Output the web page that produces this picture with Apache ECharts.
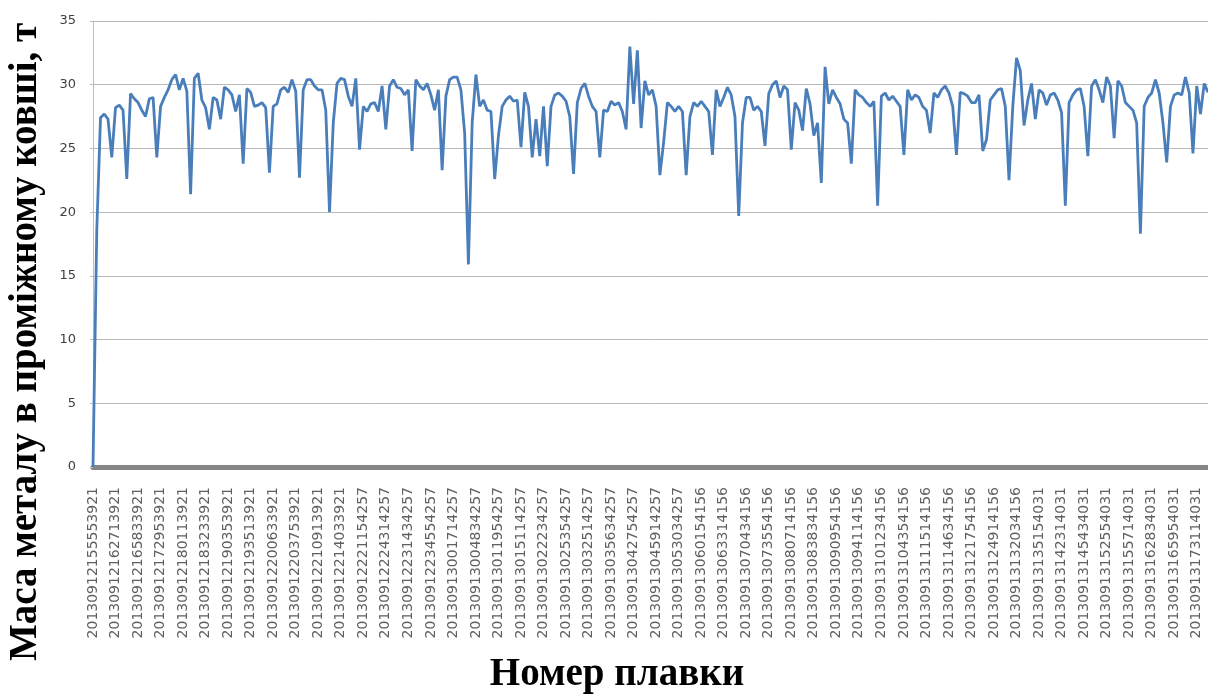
<!DOCTYPE html>
<html>
<head>
<meta charset="utf-8">
<script src="https://cdn.jsdelivr.net/npm/echarts@6/dist/echarts.min.js"></script>
<style>
html,body{margin:0;padding:0;background:#fff;}
#chart{width:1208px;height:695px;}
</style>
</head>
<body>
<div id="chart"></div>
<script>
const tickLabels = [
"20130912155553921","20130912162713921","20130912165833921","20130912172953921","20130912180113921",
"20130912183233921","20130912190353921","20130912193513921","20130912200633921","20130912203753921",
"20130912210913921","20130912214033921","20130912221154257","20130912224314257","20130912231434257",
"20130912234554257","20130913001714257","20130913004834257","20130913011954257","20130913015114257",
"20130913022234257","20130913025354257","20130913032514257","20130913035634257","20130913042754257",
"20130913045914257","20130913053034257","20130913060154156","20130913063314156","20130913070434156",
"20130913073554156","20130913080714156","20130913083834156","20130913090954156","20130913094114156",
"20130913101234156","20130913104354156","20130913111514156","20130913114634156","20130913121754156",
"20130913124914156","20130913132034156","20130913135154031","20130913142314031","20130913145434031",
"20130913152554031","20130913155714031","20130913162834031","20130913165954031","20130913173114031"
];
// points drawn between two consecutive labelled heats
const STEP = 6;
const massValues = [
0,18.5,27.4,27.7,27.3,24.3,28.2,28.4,28.0,22.6,
29.3,28.9,28.6,28.0,27.5,28.9,29.0,24.3,28.3,29.0,
29.6,30.4,30.8,29.6,30.5,29.5,21.4,30.5,30.9,28.8,
28.2,26.5,29.0,28.8,27.3,29.8,29.6,29.2,27.9,29.2,
23.8,29.7,29.4,28.3,28.4,28.6,28.2,23.1,28.3,28.5,
29.6,29.8,29.4,30.4,29.5,22.7,29.6,30.4,30.4,29.9,
29.6,29.6,28.0,20.0,27.0,30.1,30.5,30.4,29.1,28.3,
30.5,24.9,28.3,27.9,28.5,28.6,27.9,29.9,26.5,29.9,
30.4,29.8,29.7,29.2,29.6,24.8,30.4,29.9,29.6,30.1,
29.2,28.0,29.6,23.3,29.1,30.4,30.6,30.6,29.6,26.2,
15.9,27.0,30.8,28.3,28.8,28.0,27.9,22.6,26.0,28.3,
28.8,29.1,28.7,28.8,25.1,29.4,28.3,24.3,27.3,24.4,
28.3,23.6,28.3,29.2,29.35,29.1,28.7,27.5,23.0,28.6,
29.7,30.1,29.1,28.3,27.9,24.3,28.0,27.9,28.7,28.4,
28.6,27.9,26.5,33.0,28.5,32.7,26.6,30.3,29.2,29.6,
28.3,22.9,25.5,28.6,28.3,27.9,28.3,27.9,22.9,27.5,
28.6,28.3,28.7,28.3,27.9,24.5,29.6,28.3,29.0,29.8,
29.2,27.5,19.7,27.0,29.0,29.0,28.0,28.3,27.9,25.2,
29.3,30.0,30.3,29.0,29.9,29.6,24.9,28.6,28.0,26.4,
29.7,28.5,26.0,27.0,22.3,31.4,28.5,29.6,29.0,28.5,
27.3,27.0,23.8,29.6,29.2,29.0,28.6,28.3,28.7,20.5,
29.1,29.35,28.8,29.1,28.7,28.3,24.5,29.6,28.8,29.2,
29.0,28.3,28.0,26.2,29.35,29.0,29.6,29.9,29.35,28.3,
24.5,29.4,29.3,29.1,28.6,28.6,29.2,24.8,25.7,28.8,
29.2,29.6,29.7,28.3,22.5,28.3,32.1,31.1,26.8,28.8,
30.1,27.3,29.6,29.35,28.4,29.2,29.35,28.8,27.8,20.5,
28.6,29.2,29.6,29.7,28.3,24.4,29.9,30.4,29.6,28.6,
30.6,29.9,25.8,30.3,29.9,28.6,28.3,28.0,27.0,18.3,
28.3,29.0,29.35,30.4,29.35,27.0,23.9,28.3,29.2,29.35,
29.2,30.6,29.35,24.6,29.9,27.7,30.1,29.4
];
const yTitle = "Маса металу в проміжному ковші, т";
const xTitle = "Номер плавки";

const categories = massValues.map((_, i) =>
  i % STEP === 0 ? tickLabels[i / STEP] : tickLabels[Math.floor(i / STEP)] + "+" + (i % STEP));

const chart = echarts.init(document.getElementById('chart'), null, {renderer: 'canvas'});
chart.setOption({
  animation: false,
  backgroundColor: '#ffffff',
  grid: {left: 93, right: 0, top: 21, bottom: 228, containLabel: false},
  xAxis: {
    type: 'category',
    data: categories,
    boundaryGap: false,
    axisLine: {show: true, lineStyle: {color: '#868686', width: 5}},
    axisTick: {show: false},
    splitLine: {show: false},
    axisLabel: {
      rotate: 90,
      interval: (idx) => idx % STEP === 0,
      formatter: (v, idx) => tickLabels[idx / STEP] || '',
      fontFamily: 'DejaVu Sans',
      fontSize: 14,
      color: '#606060',
      margin: 20
    }
  },
  yAxis: {
    type: 'value',
    min: 0, max: 35, interval: 5,
    axisLine: {show: true, lineStyle: {color: '#bdbdbd', width: 1}},
    axisTick: {show: true, length: 3, lineStyle: {color: '#bdbdbd'}},
    splitLine: {show: true, lineStyle: {color: '#b9b9b9', width: 1}},
    axisLabel: {fontFamily: 'DejaVu Sans', fontSize: 13, color: '#404040', margin: 17}
  },
  series: [{
    type: 'line',
    data: massValues,
    showSymbol: false,
    symbol: 'none',
    lineStyle: {color: '#4a7ebb', width: 2.8},
    itemStyle: {color: '#4a7ebb'}
  }],
  graphic: [
    {type: 'text', x: 26, y: 342, rotation: Math.PI / 2,
     style: {text: yTitle, fontFamily: 'Liberation Serif', fontWeight: 'bold', fontSize: 39, fill: '#000', align: 'center', verticalAlign: 'middle'}},
    {type: 'text', x: 617, y: 675,
     style: {text: xTitle, fontFamily: 'Liberation Serif', fontWeight: 'bold', fontSize: 39, fill: '#000', align: 'center', verticalAlign: 'middle'}}
  ]
});
</script>
</body>
</html>
